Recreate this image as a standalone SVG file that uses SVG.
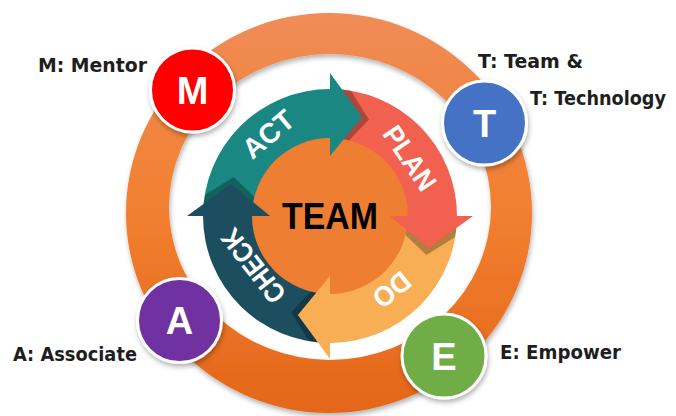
<svg xmlns="http://www.w3.org/2000/svg" xmlns:xlink="http://www.w3.org/1999/xlink" width="676" height="416" viewBox="0 0 676 416">
<style>
.lbl{font-family:"DejaVu Sans","Liberation Sans",sans-serif;font-weight:bold;font-size:19px;fill:#1e1e1e}
.ini{font-family:"Liberation Sans",Arial,sans-serif;font-weight:bold;font-size:38px;fill:#ffffff;text-anchor:middle}
.arw{font-family:"Liberation Sans",Arial,sans-serif;font-weight:bold;font-size:28px;fill:#ffffff;text-anchor:middle}
.node{stroke:#ffffff;stroke-width:3}
</style>
<defs>
<linearGradient id="ringGrad" x1="0" y1="0" x2="0" y2="1">
<stop offset="0" stop-color="#F08C57"/>
<stop offset="0.5" stop-color="#F27F2F"/>
<stop offset="1" stop-color="#E4661A"/>
</linearGradient>
<filter id="sh" x="-20%" y="-20%" width="140%" height="140%">
<feDropShadow dx="1" dy="3" stdDeviation="2.5" flood-color="#000" flood-opacity="0.3"/>
</filter>
<clipPath id="band">
<path d="M330,89 A127,127 0 1 1 329.9,89 Z M330,138 A78,78 0 1 0 330.1,138 Z" clip-rule="evenodd"/>
</clipPath>
<path id="body" d="M203,216 A127,127 0 0 1 330,89 L330,138 A78,78 0 0 0 252,216 Z"/>
<path id="head" d="M330,73 L362.1,117.1 L330,156 Z"/>
</defs>
<rect width="676" height="416" fill="#ffffff"/>

<g id="ring">
<path d="M126,213 A203,200 0 1 1 532,213 A203,200 0 1 1 126,213 Z M169,207 A161,153 0 1 0 491,207 A161,153 0 1 0 169,207 Z" fill="url(#ringGrad)" fill-rule="evenodd" filter="url(#sh)"/>
</g>

<g id="team-core">
<circle cx="330" cy="216" r="82" fill="#EE7E31"/>
</g>

<g id="cycle-connectors">
<use xlink:href="#body" fill="#1A8783"/>
<use xlink:href="#body" fill="#F26150" transform="rotate(90 330 216)"/>
<use xlink:href="#body" fill="#F7AE55" transform="rotate(180 330 216)"/>
<use xlink:href="#body" fill="#1C4E5F" transform="rotate(270 330 216)"/>
<g clip-path="url(#band)" fill="#000" fill-opacity="0.28">
<use xlink:href="#head" transform="rotate(4 330 216)"/>
<use xlink:href="#head" transform="rotate(94 330 216)"/>
<use xlink:href="#head" transform="rotate(184 330 216)"/>
<use xlink:href="#head" transform="rotate(274 330 216)"/>
</g>
<use xlink:href="#head" fill="#1A8783"/>
<use xlink:href="#head" fill="#F26150" transform="rotate(90 330 216)"/>
<use xlink:href="#head" fill="#F7AE55" transform="rotate(180 330 216)"/>
<use xlink:href="#head" fill="#1C4E5F" transform="rotate(270 330 216)"/>
</g>

<g id="act"><text class="arw" transform="translate(268,134) rotate(-40)" y="10" textLength="58" lengthAdjust="spacingAndGlyphs">ACT</text></g>
<g id="plan"><text class="arw" transform="translate(410,158) rotate(56)" y="10" textLength="72" lengthAdjust="spacingAndGlyphs">PLAN</text></g>
<g id="do"><text class="arw" transform="translate(392,290) rotate(141)" y="10" textLength="40" lengthAdjust="spacingAndGlyphs">DO</text></g>
<g id="check"><text class="arw" transform="translate(253,266) rotate(-128)" y="10" textLength="86" lengthAdjust="spacingAndGlyphs">CHECK</text></g>

<g id="team"><text x="330" y="229" font-family="Liberation Sans, Arial, sans-serif" font-weight="bold" font-size="37" fill="#000" text-anchor="middle" textLength="96" lengthAdjust="spacingAndGlyphs">TEAM</text></g>

<g id="node-m">
<circle class="node" cx="192.5" cy="90" r="42" fill="#FE0000" filter="url(#sh)"/>
<text class="ini" x="192.5" y="104">M</text>
<text class="lbl" x="38" y="72" textLength="109" lengthAdjust="spacingAndGlyphs">M: Mentor</text>
</g>
<g id="node-t">
<circle class="node" cx="484.5" cy="123" r="42" fill="#4472C4" filter="url(#sh)"/>
<text class="ini" x="484.5" y="137">T</text>
<text class="lbl" x="478" y="68" textLength="105" lengthAdjust="spacingAndGlyphs">T: Team &amp;</text>
<text class="lbl" x="530" y="105" textLength="136" lengthAdjust="spacingAndGlyphs">T: Technology</text>
</g>
<g id="node-a">
<circle class="node" cx="179.5" cy="320.5" r="42" fill="#7030A0" filter="url(#sh)"/>
<text class="ini" x="179.5" y="334">A</text>
<text class="lbl" x="13" y="361" textLength="124" lengthAdjust="spacingAndGlyphs">A: Associate</text>
</g>
<g id="node-e">
<circle class="node" cx="444" cy="356" r="42" fill="#70AD47" filter="url(#sh)"/>
<text class="ini" x="444" y="370">E</text>
<text class="lbl" x="500" y="359" textLength="121" lengthAdjust="spacingAndGlyphs">E: Empower</text>
</g>
</svg>
